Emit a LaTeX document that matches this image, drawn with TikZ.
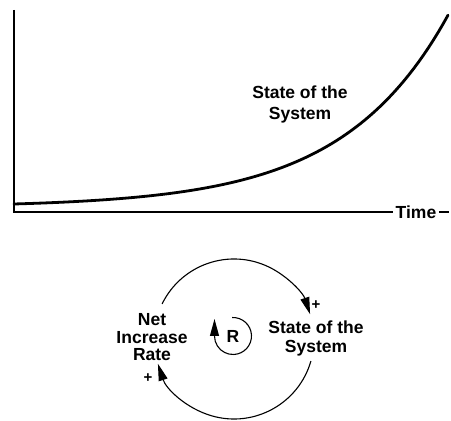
\documentclass[tikz,border=0pt]{standalone}
\usepackage{fontspec}
\setmainfont{Liberation Sans}
\usetikzlibrary{arrows.meta}

\begin{document}
\begin{tikzpicture}[
    x=1pt, y=1pt,
    axis/.style={
      draw=black,
      line width=1.2pt
    },
    growth/.style={
      draw=black,
      line width=2.8pt,
      line cap=round
    },
    lbl/.style={
      font=\bfseries\fontsize{17.5}{17.5}\selectfont,
      align=center,
      inner sep=0pt
    },
    tag/.style={
      font=\bfseries\fontsize{15}{15}\selectfont,
      inner sep=0pt
    },
    link/.style={
      -{Triangle[length=17pt,width=9pt]},
      draw=black,
      line width=1.1pt
    }
  ]
    \useasboundingbox (0,0) rectangle (451,421);

    % chart
    \coordinate (origin) at (14,209);
    \coordinate (ytop) at (14,411);
    \node[lbl, inner sep=2.5pt] (time) at (416,209) {Time};
    \draw[axis] (ytop) -- (origin) -- (time.west);
    \draw[axis] (time.east) -- ++(10,0);

    \draw[growth] plot[domain=14:448, samples=90]
      (\x, {217+3.1*(exp(0.0095*(\x-14))-1)});
    \node[lbl, font=\bfseries\fontsize{17.5}{21}\selectfont] (curvelbl) at (300,317) {State of the\\System};

    % loop
    \coordinate (loopc) at (234,82);
    \node[lbl] (rate) at (152,83.6) {Net\\Increase\\Rate};
    \node[lbl, font=\bfseries\fontsize{17.5}{19}\selectfont] (state) at (316,82.7) {State of the\\System};
    \node[lbl] (loopR) at (233,85) {R};
    \node[tag] (plusA) at (316,116) {+};
    \node[tag] (plusB) at (148,43) {+};

    \draw[link] ([shift={(154:80)}]loopc) arc[start angle=154, end angle=18, radius=80];
    \draw[link] ([shift={(-16:80)}]loopc) arc[start angle=-16, end angle=-162, radius=80];

    \draw[link] ([shift={(93:18.5)}]loopR.center) arc[start angle=93, end angle=-180, radius=18.5] -- ++(0,17);
  \end{tikzpicture}
\end{document}
